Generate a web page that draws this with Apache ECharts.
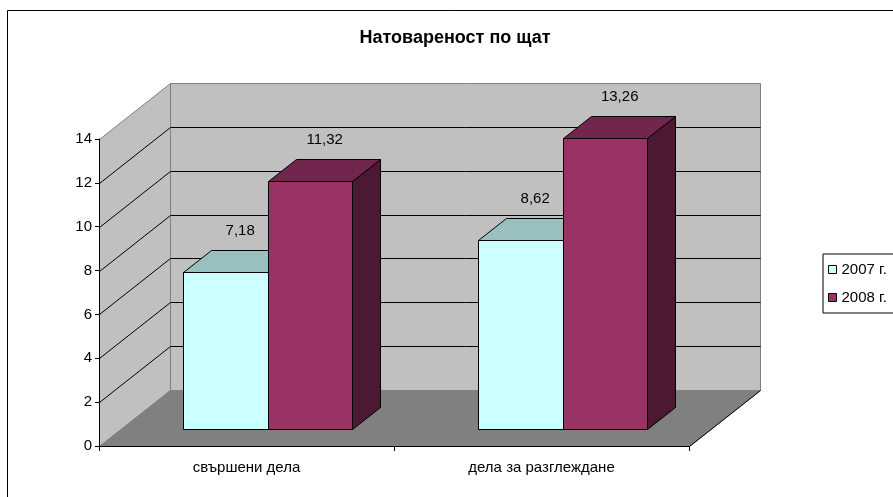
<!DOCTYPE html>
<html><head><meta charset="utf-8">
<script src="https://cdn.jsdelivr.net/npm/echarts@6/dist/echarts.min.js"></script>
<style>html,body{margin:0;padding:0;background:#fff}#c{width:893px;height:497px}</style>
</head><body><div id="c"></div>
<script>
// ---- data ----
const chartTitle = 'Натовареност по щат';
const categories = ['свършени дела', 'дела за разглеждане'];
const seriesNames = ['2007 г.', '2008 г.'];
const values2007 = [7.18, 8.62];
const values2008 = [11.32, 13.26];
const yTicks = [0, 2, 4, 6, 8, 10, 12, 14];

// ---- styling ----
const FONT = '"Liberation Sans", Arial, sans-serif';
const DEPTH = [71, -56];      // full floor depth vector in px
const BAR_POS = 0.3;          // depth of bar front faces
const BAR_DEPTH = 0.4;        // bar thickness in depth
const BAR_FRAC = 0.2864;      // bar width as fraction of category band
const COLORS = [
  {front: '#ccffff', top: '#99bfbf', side: '#667f7f'},
  {front: '#993366', top: '#73264d', side: '#4c1933'}
];
const fmt = v => v.toFixed(2).replace('.', ',');
const h = v => Math.round(v) + 0.5;

function renderWalls(params, api) {
  const band = api.size([1, 0])[0];
  const x0 = api.coord([0, 0])[0] - band / 2;
  const x1 = api.coord([categories.length - 1, 0])[0] + band / 2;
  const yOf = v => api.coord([0, v])[1];
  const yMin = yTicks[0], yMax = yTicks[yTicks.length - 1];
  const dx = DEPTH[0], dy = DEPTH[1];
  const ch = [];
  ch.push({type: 'polygon', shape: {points: [[h(x0 + dx), h(yOf(yMax) + dy)], [h(x1 + dx), h(yOf(yMax) + dy)], [h(x1 + dx), h(yOf(yMin) + dy)], [h(x0 + dx), h(yOf(yMin) + dy)]]},
    style: {fill: '#c0c0c0', stroke: '#808080', lineWidth: 1}});
  ch.push({type: 'polygon', shape: {points: [[h(x0), h(yOf(yMin))], [h(x0), h(yOf(yMax))], [h(x0 + dx), h(yOf(yMax) + dy)], [h(x0 + dx), h(yOf(yMin) + dy)]]},
    style: {fill: '#c0c0c0', stroke: '#808080', lineWidth: 1}});
  ch.push({type: 'polygon', shape: {points: [[h(x0), h(yOf(yMin))], [h(x1), h(yOf(yMin))], [h(x1 + dx), h(yOf(yMin) + dy)], [h(x0 + dx), h(yOf(yMin) + dy)]]},
    style: {fill: '#808080', stroke: '#808080', lineWidth: 1}});
  ch.push({type: 'line', shape: {x1: h(x1), y1: h(yOf(yMin)), x2: h(x1 + dx), y2: h(yOf(yMin) + dy)}, style: {stroke: '#000', lineWidth: 1}});
  yTicks.slice(1, -1).forEach(v => {
    const y = yOf(v);
    ch.push({type: 'line', shape: {x1: h(x0), y1: h(y), x2: h(x0 + dx), y2: h(y + dy)}, style: {stroke: '#000', lineWidth: 1}});
    ch.push({type: 'line', shape: {x1: h(x0 + dx), y1: h(y + dy), x2: h(x1 + dx), y2: h(y + dy)}, style: {stroke: '#000', lineWidth: 1}});
  });
  return {type: 'group', children: ch};
}

function makeBar(sIdx) {
  const c = COLORS[sIdx];
  return function (params, api) {
    const ci = api.value(0), v = api.value(1);
    const band = api.size([1, 0])[0];
    const base = api.coord([ci, 0]);
    const top = api.coord([ci, v]);
    const w = band * BAR_FRAC;
    const ox = DEPTH[0] * BAR_POS, oy = DEPTH[1] * BAR_POS;
    const bx = DEPTH[0] * BAR_DEPTH, by = DEPTH[1] * BAR_DEPTH;
    const L = h(base[0] + ox + (sIdx === 0 ? -w : 0));
    const R = h(base[0] + ox + (sIdx === 0 ? 0 : w));
    const yb = h(base[1] + oy), yt = h(top[1] + oy);
    const BX = Math.round(bx), BY = Math.round(by);
    const st = {stroke: '#000', lineWidth: 1};
    return {type: 'group', children: [
      {type: 'polygon', shape: {points: [[R, yt], [R + BX, yt + BY], [R + BX, yb + BY], [R, yb]]}, style: Object.assign({fill: c.side}, st)},
      {type: 'polygon', shape: {points: [[L, yt], [R, yt], [R + BX, yt + BY], [L + BX, yt + BY]]}, style: Object.assign({fill: c.top}, st)},
      {type: 'polygon', shape: {points: [[L, yt], [R, yt], [R, yb], [L, yb]]}, style: Object.assign({fill: c.front}, st)},
      {type: 'text', x: (L + R) / 2 + bx / 2, y: yt + by - 19,
        style: {text: fmt(v), fill: '#000', font: '15px ' + FONT, textAlign: 'center', textVerticalAlign: 'middle'}}
    ]};
  };
}

const chart = echarts.init(document.getElementById('c'), null, {renderer: 'canvas'});
chart.setOption({
  animation: false,
  backgroundColor: '#fff',
  textStyle: {fontFamily: FONT},
  graphic: [
    {type: 'rect', shape: {x: 7.5, y: 10.5, width: 950, height: 550}, style: {fill: 'none', stroke: '#000', lineWidth: 1}, z: -10},
    {type: 'text', x: 455, y: 38, style: {text: chartTitle, font: 'bold 18px ' + FONT, fill: '#000', textAlign: 'center', textVerticalAlign: 'middle'}}
  ],
  grid: {left: 99, right: 204, top: 139, bottom: 51, containLabel: false},
  legend: {
    orient: 'vertical', left: 823, top: 254,
    padding: [8, 40, 8, 5], itemGap: 13,
    backgroundColor: '#fff', borderColor: '#000', borderWidth: 1, borderRadius: 0,
    itemWidth: 8, itemHeight: 8, icon: 'rect',
    itemStyle: {borderColor: '#000', borderWidth: 1},
    textStyle: {fontSize: 15, color: '#000', fontFamily: FONT},
    data: seriesNames
  },
  xAxis: {
    type: 'category', data: categories, z: 10,
    axisLine: {show: true, lineStyle: {color: '#000', width: 1}},
    axisTick: {show: true, length: 5, lineStyle: {color: '#000'}},
    axisLabel: {fontSize: 15, color: '#000', margin: 14, fontFamily: FONT},
    splitLine: {show: false}
  },
  yAxis: {
    type: 'value', min: 0, max: 14, interval: 2, z: 10,
    axisLine: {show: true, lineStyle: {color: '#000', width: 1}},
    axisTick: {show: true, length: 4, lineStyle: {color: '#000'}},
    axisLabel: {fontSize: 15, color: '#000', margin: 7, fontFamily: FONT},
    splitLine: {show: false}
  },
  series: [
    {type: 'custom', name: '_walls', z: 1, renderItem: renderWalls, data: [[0, 0]], encode: {x: 0, y: 1}, silent: true},
    {type: 'custom', name: seriesNames[0], z: 2, renderItem: makeBar(0),
      itemStyle: {color: COLORS[0].front, borderColor: '#000', borderWidth: 1},
      data: values2007.map((v, i) => [i, v]), encode: {x: 0, y: 1}},
    {type: 'custom', name: seriesNames[1], z: 3, renderItem: makeBar(1),
      itemStyle: {color: COLORS[1].front, borderColor: '#000', borderWidth: 1},
      data: values2008.map((v, i) => [i, v]), encode: {x: 0, y: 1}}
  ]
});
</script>
</body></html>
